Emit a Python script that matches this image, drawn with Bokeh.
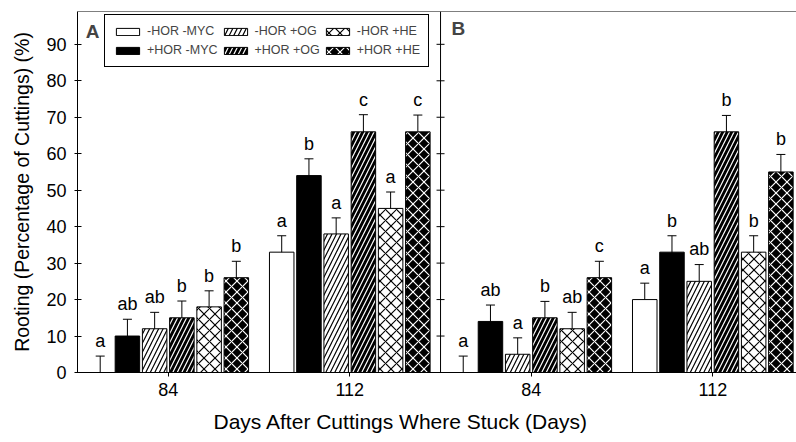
from bokeh.plotting import figure
from bokeh.models import (ColumnDataSource, FixedTicker, Span, Label, Legend, LegendItem,
                          Whisker, TeeHead, Range1d, Title)
from bokeh.core.properties import value
from bokeh.embed import file_html
from bokeh.resources import INLINE

# ---------------- data ----------------
days = ["84", "112"]
panels = ["A", "B"]
treatments = ["-HOR -MYC", "+HOR -MYC", "-HOR +OG", "+HOR +OG", "-HOR +HE", "+HOR +HE"]

a_84 = [0, 10, 12, 15, 18, 26]
a_112 = [33, 54, 38, 66, 45, 66]
b_84 = [0, 14, 5, 15, 12, 26]
b_112 = [20, 33, 25, 66, 33, 55]

err_a_84 = [4.5, 4.6, 4.5, 4.6, 4.4, 4.5]
err_a_112 = [4.5, 4.6, 4.4, 4.7, 4.5, 4.6]
err_b_84 = [4.5, 4.5, 4.5, 4.5, 4.5, 4.5]
err_b_112 = [4.5, 4.5, 4.6, 4.5, 4.5, 4.8]

let_a_84 = ["a", "ab", "ab", "b", "b", "b"]
let_a_112 = ["a", "b", "a", "c", "a", "c"]
let_b_84 = ["a", "ab", "a", "b", "ab", "c"]
let_b_112 = ["a", "b", "ab", "b", "b", "b"]

y_ticks = [0, 10, 20, 30, 40, 50, 60, 70, 80, 90]

groups = [(0, 0, a_84, err_a_84, let_a_84),
          (0, 1, a_112, err_a_112, let_a_112),
          (1, 0, b_84, err_b_84, let_b_84),
          (1, 1, b_112, err_b_112, let_b_112)]

# ---------------- styles ----------------
fills = ["white", "black", "white", "black", "white", "black"]
hatches = [" ", " ", "right_diagonal_line", "right_diagonal_line", "diagonal_cross", "diagonal_cross"]
hatch_cols = ["black", "white", "black", "white", "black", "white"]
hatch_scales = [10, 10, 9, 9, 11, 11]

FONT = "Liberation Sans"
STEP = 0.15
BW = 0.135

p = figure(width=796, height=442, output_backend="svg", toolbar_location=None,
           x_range=Range1d(0, 3.961), y_range=Range1d(0, 99),
           min_border_left=77, min_border_right=0, min_border_top=11, min_border_bottom=69)
p.outline_line_color = None
p.grid.visible = False
p.background_fill_color = "white"

renderers = []
lx, ly, lt = [], [], []
for i, t in enumerate(treatments):
    xs, tops = [], []
    for (pi, di, vals, errs, lets) in groups:
        x = 2 * pi + di + 0.5 + (i - 2.5) * STEP
        xs.append(x)
        tops.append(vals[i])
        lx.append(x)
        ly.append(vals[i] + errs[i] + 1.4)
        lt.append(lets[i])
    src = ColumnDataSource(dict(x=xs, top=tops,
                                upper=[tops[k] + groups[k][3][i] for k in range(4)],
                                lower=[tops[k] - groups[k][3][i] for k in range(4)]))
    r = p.vbar(x="x", top="top", width=BW, bottom=0, source=src,
               fill_color=fills[i], line_color="black", line_width=1,
               hatch_pattern=hatches[i], hatch_color=hatch_cols[i],
               hatch_scale=hatch_scales[i], hatch_weight=1.2)
    renderers.append(r)
    w = Whisker(base="x", upper="upper", lower="lower", source=src,
                line_color="black", line_width=1,
                upper_head=TeeHead(size=9, line_color="black", line_width=1),
                lower_head=TeeHead(size=9, line_color="black", line_width=1))
    p.add_layout(w)

lsrc = ColumnDataSource(dict(x=lx, y=ly, t=lt))
p.text(x="x", y="y", text="t", source=lsrc, text_align="center", text_baseline="bottom",
       text_font=value(FONT), text_font_size="18px", text_color="black")

# frame lines: top border and panel divider
p.add_layout(Span(location=99, dimension="width", line_color="black", line_width=1))
p.add_layout(Span(location=2, dimension="height", line_color="black", line_width=1))
tick_half = 0.022
p.segment(x0=[2 - tick_half] * len(y_ticks), x1=[2 + tick_half] * len(y_ticks),
          y0=y_ticks, y1=y_ticks, line_color="black", line_width=1)

# axes
p.yaxis.ticker = FixedTicker(ticks=y_ticks)
p.yaxis.major_tick_in = 4
p.yaxis.major_tick_out = 3
p.yaxis.minor_tick_line_color = None
p.yaxis.major_label_standoff = 8
p.yaxis.axis_label = "Rooting (Percentage of Cuttings) (%)"
p.yaxis.axis_label_standoff = 10
p.yaxis.axis_label_text_font = FONT
p.yaxis.axis_label_text_font_style = "normal"
p.yaxis.axis_label_text_font_size = "19.5px"
p.yaxis.major_label_text_font = FONT
p.yaxis.major_label_text_font_size = "18px"

x_ticks = [0.5, 1.5, 2.5, 3.5]
p.xaxis.ticker = FixedTicker(ticks=x_ticks)
p.xaxis.major_label_overrides = {0.5: days[0], 1.5: days[1], 2.5: days[0], 3.5: days[1]}
p.xaxis.major_tick_in = 0
p.xaxis.major_tick_out = 4
p.xaxis.minor_tick_line_color = None
p.xaxis.major_label_standoff = 6
p.xaxis.major_label_text_font = FONT
p.xaxis.major_label_text_font_size = "18px"
for ax in (p.xaxis[0], p.yaxis[0]):
    ax.axis_line_color = "black"
    ax.major_tick_line_color = "black"
    ax.major_label_text_color = "black"
    ax.axis_label_text_color = "black"

# x axis title (placed to be centered under the whole figure)
xt = Title(text="Days After Cuttings Where Stuck (Days)", align="left", offset=136,
           text_font=FONT, text_font_size="21px", text_font_style="normal",
           text_color="black", standoff=19, vertical_align="bottom")
p.add_layout(xt, "below")

# panel letters
p.add_layout(Label(x=0.045, y=96.4, text=panels[0], text_font=FONT, text_font_style="bold",
                   text_font_size="19px", text_baseline="top", text_align="left"))
p.add_layout(Label(x=2.06, y=97.2, text=panels[1], text_font=FONT, text_font_style="bold",
                   text_font_size="19px", text_baseline="top", text_align="left"))

legend = Legend(items=[LegendItem(label=t, renderers=[r]) for t, r in zip(treatments, renderers)],
                location=(27, 305), orientation="vertical", nrows=2,
                glyph_width=29, glyph_height=9, label_height=16, label_width=10,
                spacing=3, padding=8, margin=0, label_standoff=5,
                label_text_font=FONT, label_text_font_size="12.5px",
                border_line_color="black", border_line_width=1, border_line_alpha=1,
                background_fill_color="white", background_fill_alpha=1)
p.add_layout(legend)

open("out.html", "w").write(file_html(p, INLINE))
